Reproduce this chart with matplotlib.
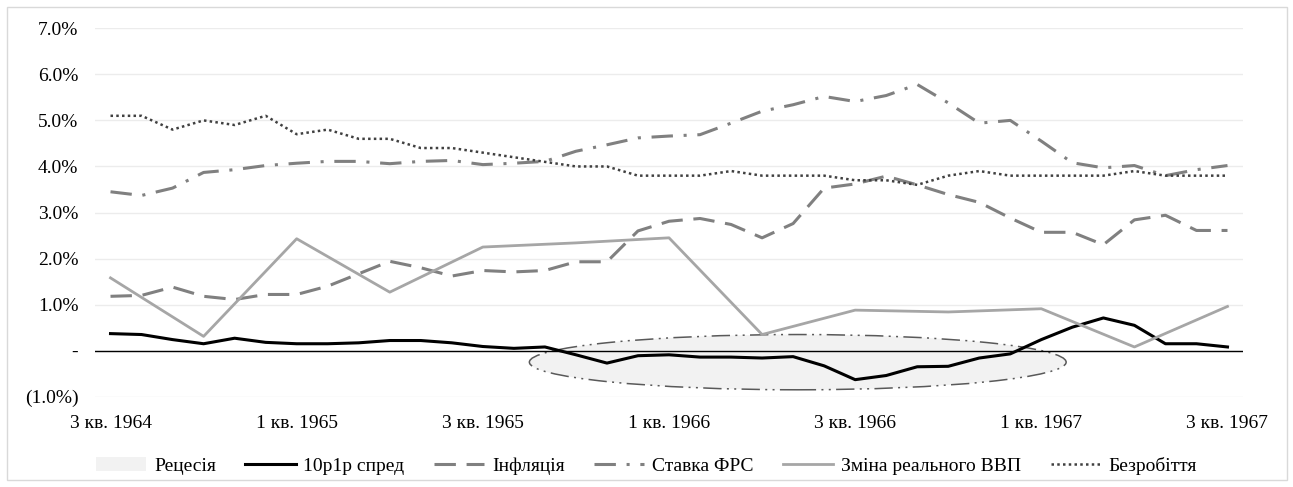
import numpy as np
import matplotlib.pyplot as plt
from matplotlib.patches import Ellipse, Patch, Rectangle
from matplotlib.lines import Line2D
from matplotlib.ticker import FuncFormatter, MultipleLocator

plt.rcParams['font.family'] = ['Liberation Serif', 'DejaVu Serif']
plt.rcParams['font.size'] = 14

# monthly observations, 3 кв. 1964 .. 3 кв. 1967
months = np.arange(37)
tick_pos = np.arange(0, 37, 6)
tick_labels = ['3 кв. 1964', '1 кв. 1965', '3 кв. 1965', '1 кв. 1966',
               '3 кв. 1966', '1 кв. 1967', '3 кв. 1967']

spread = [0.37, 0.35, 0.24, 0.15, 0.27, 0.18, 0.15, 0.15, 0.17, 0.22,
          0.22, 0.17, 0.09, 0.05, 0.08, -0.09, -0.27, -0.11, -0.09, -0.14,
          -0.14, -0.16, -0.13, -0.33, -0.63, -0.54, -0.35, -0.34, -0.16, -0.07,
          0.24, 0.51, 0.71, 0.55, 0.15, 0.15, 0.08]
inflation = [1.18, 1.20, 1.38, 1.18, 1.11, 1.22, 1.22, 1.40, 1.67, 1.94,
             1.80, 1.62, 1.74, 1.71, 1.74, 1.93, 1.93, 2.60, 2.81, 2.87,
             2.74, 2.45, 2.76, 3.53, 3.62, 3.79, 3.60, 3.39, 3.22, 2.88,
             2.57, 2.57, 2.30, 2.84, 2.94, 2.61, 2.61]
fed_rate = [3.45, 3.37, 3.53, 3.87, 3.93, 4.02, 4.07, 4.11, 4.11, 4.06,
            4.11, 4.13, 4.04, 4.07, 4.11, 4.33, 4.47, 4.62, 4.66, 4.69,
            4.94, 5.20, 5.34, 5.52, 5.41, 5.54, 5.78, 5.38, 4.94, 5.00,
            4.55, 4.08, 3.97, 4.02, 3.80, 3.93, 4.02]
unemployment = [5.1, 5.1, 4.8, 5.0, 4.9, 5.1, 4.7, 4.8, 4.6, 4.6,
                4.4, 4.4, 4.3, 4.2, 4.1, 4.0, 4.0, 3.8, 3.8, 3.8,
                3.9, 3.8, 3.8, 3.8, 3.7, 3.7, 3.6, 3.8, 3.9, 3.8,
                3.8, 3.8, 3.8, 3.9, 3.8, 3.8, 3.8]
# real GDP change is quarterly
gdp_months = np.arange(0, 37, 3)
gdp_change = [1.58, 0.31, 2.43, 1.27, 2.25, 2.34, 2.45, 0.35, 0.88, 0.84,
              0.91, 0.08, 0.96]

# recession highlight (month index and % range)
rec_start, rec_end = 13.5, 30.8
rec_low, rec_high = -0.85, 0.35


def pct_fmt(v, pos):
    if abs(v) < 1e-9:
        return '-'
    if v < 0:
        return f'({abs(v):.1f}%)'
    return f'{v:.1f}%'


fig = plt.figure(figsize=(12.93, 4.87), dpi=100)
fig.patches.append(Rectangle((7 / 1293, 1 - 480 / 487), 1280 / 1293, 473 / 487,
                             transform=fig.transFigure, fill=False,
                             edgecolor='#d9d9d9', linewidth=1.0))

ax = fig.add_axes([95 / 1293, 1 - 396.7 / 487, 1148 / 1293, 368.4 / 487])

ax.add_patch(Ellipse(((rec_start + rec_end) / 2, (rec_low + rec_high) / 2),
                     rec_end - rec_start, rec_high - rec_low,
                     facecolor='#f2f2f2', edgecolor='#595959', linewidth=1.1,
                     linestyle=(0, (12, 3.5, 1.3, 3.5, 1.3, 3.5)), zorder=1))
ax.axhline(0, color='black', linewidth=1.0, zorder=1.5)

ax.plot(months, spread, color='black', linewidth=2.2, zorder=3)
ax.plot(months, inflation, color='#808080', linewidth=2.2,
        linestyle=(0, (7, 3.5)), zorder=3)
ax.plot(months, fed_rate, color='#808080', linewidth=2.2,
        linestyle=(0, (7, 3.5, 1, 3.5)), zorder=3)
ax.plot(gdp_months, gdp_change, color='#a6a6a6', linewidth=2.0, zorder=3)
ax.plot(months, unemployment, color='#404040', linewidth=1.8,
        linestyle=(0, (1, 1.3)), zorder=3)

ax.set_xlim(-0.5, 36.5)
ax.set_ylim(-1, 7)
ax.yaxis.set_major_locator(MultipleLocator(1))
ax.yaxis.set_major_formatter(FuncFormatter(pct_fmt))
ax.set_xticks(tick_pos)
ax.set_xticklabels(tick_labels)
ax.tick_params(axis='both', length=0, colors='black')
ax.tick_params(axis='y', pad=12)
ax.tick_params(axis='x', pad=13)
ax.grid(axis='y', color='#ececec', linewidth=1.0, zorder=0)
ax.set_axisbelow(True)
for s in ax.spines.values():
    s.set_visible(False)

handles = [
    Patch(facecolor='#f2f2f2', edgecolor='none'),
    Line2D([], [], color='black', linewidth=2.2),
    Line2D([], [], color='#808080', linewidth=2.2, linestyle=(0, (7, 3.5))),
    Line2D([], [], color='#808080', linewidth=2.2, linestyle=(0, (7, 3.5, 1, 3.5))),
    Line2D([], [], color='#a6a6a6', linewidth=2.0),
    Line2D([], [], color='#404040', linewidth=1.8, linestyle=(0, (1, 1.3))),
]
labels = ['Рецесія', '10p1p спред', 'Інфляція', 'Ставка ФРС',
          'Зміна реального ВВП', 'Безробіття']
fig.legend(handles, labels, loc='center', bbox_to_anchor=(0.5, 1 - 466 / 487),
           ncol=6, frameon=False, handlelength=2.6, handletextpad=0.4,
           columnspacing=1.5, fontsize=14)

fig.savefig('out.png', dpi=100)
